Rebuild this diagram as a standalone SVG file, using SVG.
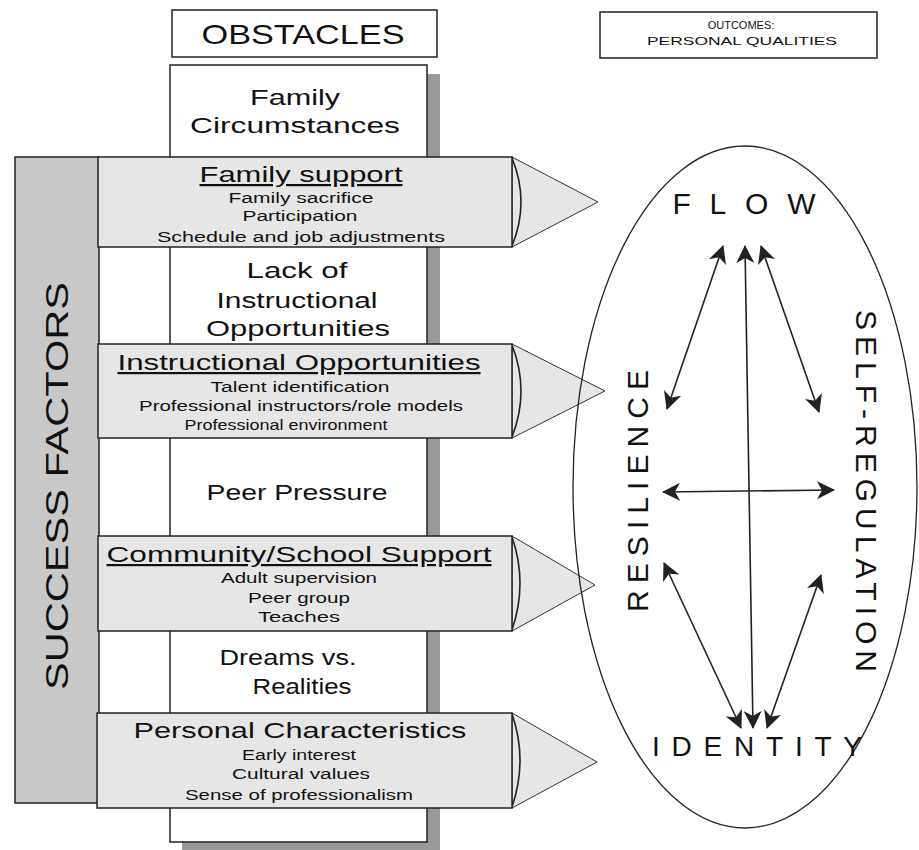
<svg xmlns="http://www.w3.org/2000/svg" width="919" height="850" viewBox="0 0 919 850">
<style>
text{font-family:"Liberation Sans",Arial,sans-serif;fill:#111;text-anchor:middle}
.obs{font-size:22px}
.tit{font-size:22px;text-decoration:underline}
.it{font-size:14px}
.box{fill:#e6e6e6;stroke:#222;stroke-width:1.5}
.tri{fill:#e6e6e6;stroke:#333;stroke-width:1}
.big{font-size:28px}
.conn{stroke:#222;stroke-width:1.6;fill:none}
</style>
<defs>
<marker id="ah" viewBox="0 0 18 18" refX="17" refY="9" markerWidth="18" markerHeight="18" markerUnits="userSpaceOnUse" orient="auto-start-reverse">
<path d="M0,0 L18,9 L0,18 L5,9 Z" fill="#222"/>
</marker>
</defs>
<rect width="919" height="850" fill="#fff"/>

<g id="obstacles-title">
<rect x="172" y="10" width="265" height="47" fill="#fff" stroke="#222" stroke-width="1.5"/>
<text x="303" y="44" class="big" textLength="203" lengthAdjust="spacingAndGlyphs">OBSTACLES</text>
</g>

<g id="outcomes-title">
<rect x="600" y="12" width="277" height="46" fill="#fff" stroke="#222" stroke-width="1.5"/>
<text x="741" y="29" font-size="11">OUTCOMES:</text>
<text x="742" y="45" font-size="11" textLength="190" lengthAdjust="spacingAndGlyphs">PERSONAL QUALITIES</text>
</g>

<g id="obstacles-column">
<rect x="427" y="74" width="13" height="776" fill="#999"/>
<rect x="182" y="842" width="258" height="8" fill="#999"/>
<rect x="170" y="65" width="257" height="777" fill="#fff" stroke="#222" stroke-width="1.5"/>
<text x="295" y="105" class="obs" textLength="90" lengthAdjust="spacingAndGlyphs">Family</text>
<text x="295" y="133" class="obs" textLength="210" lengthAdjust="spacingAndGlyphs">Circumstances</text>
<text x="297" y="278" class="obs" textLength="101" lengthAdjust="spacingAndGlyphs">Lack of</text>
<text x="297" y="308" class="obs" textLength="161" lengthAdjust="spacingAndGlyphs">Instructional</text>
<text x="298" y="336" class="obs" textLength="184" lengthAdjust="spacingAndGlyphs">Opportunities</text>
<text x="297" y="500" class="obs" textLength="181" lengthAdjust="spacingAndGlyphs">Peer Pressure</text>
<text x="288" y="665" class="obs" textLength="137" lengthAdjust="spacingAndGlyphs">Dreams vs.</text>
<text x="302" y="694" class="obs" textLength="99" lengthAdjust="spacingAndGlyphs">Realities</text>
</g>

<g id="success-factors">
<rect x="15" y="157" width="84" height="646" fill="#c8c8c8" stroke="#222" stroke-width="1.5"/>
<text transform="translate(68,486) rotate(-90)" font-size="32" textLength="408" lengthAdjust="spacingAndGlyphs">SUCCESS FACTORS</text>
</g>

<g id="family-support">
<path class="tri" d="M512,157 L598,202 L512,247 Z"/>
<path class="conn" stroke-width="1" d="M512,158 Q530,202 512,246"/>
<rect class="box" x="98" y="157" width="414" height="90"/>
<text x="301" y="182" class="tit" textLength="203" lengthAdjust="spacingAndGlyphs">Family support</text>
<text x="301" y="203" class="it" textLength="145" lengthAdjust="spacingAndGlyphs">Family sacrifice</text>
<text x="300" y="221" class="it" textLength="115" lengthAdjust="spacingAndGlyphs">Participation</text>
<text x="301" y="242" class="it" textLength="288" lengthAdjust="spacingAndGlyphs">Schedule and job adjustments</text>
</g>

<g id="instructional-opportunities">
<path class="tri" d="M512,344 L605,391 L512,438 Z"/>
<path class="conn" stroke-width="1" d="M512,345 Q530,391 512,437"/>
<rect class="box" x="98" y="344" width="414" height="94"/>
<text x="299" y="370" class="tit" textLength="363" lengthAdjust="spacingAndGlyphs">Instructional Opportunities</text>
<text x="300" y="392" class="it" textLength="179" lengthAdjust="spacingAndGlyphs">Talent identification</text>
<text x="301" y="411" class="it" textLength="324" lengthAdjust="spacingAndGlyphs">Professional instructors/role models</text>
<text x="286" y="430" class="it" textLength="203" lengthAdjust="spacingAndGlyphs">Professional environment</text>
</g>

<g id="community-school-support">
<path class="tri" d="M512,536 L595,585 L512,631 Z"/>
<path class="conn" stroke-width="1" d="M512,537 Q528,583 512,630"/>
<rect class="box" x="98" y="536" width="414" height="95"/>
<text x="299" y="562" class="tit" textLength="385" lengthAdjust="spacingAndGlyphs">Community/School Support</text>
<text x="299" y="583" class="it" textLength="156" lengthAdjust="spacingAndGlyphs">Adult supervision</text>
<text x="299" y="603" class="it" textLength="102" lengthAdjust="spacingAndGlyphs">Peer group</text>
<text x="299" y="622" class="it" textLength="82" lengthAdjust="spacingAndGlyphs">Teaches</text>
</g>

<g id="personal-characteristics">
<path class="tri" d="M512,713 L597,762 L512,808 Z"/>
<path class="conn" stroke-width="1" d="M512,714 Q528,760 512,807"/>
<rect class="box" x="97" y="713" width="415" height="95"/>
<text x="300" y="738" font-size="22" textLength="333" lengthAdjust="spacingAndGlyphs">Personal Characteristics</text>
<text x="299" y="760" class="it" textLength="114" lengthAdjust="spacingAndGlyphs">Early interest</text>
<text x="301" y="779" class="it" textLength="138" lengthAdjust="spacingAndGlyphs">Cultural values</text>
<text x="299" y="800" class="it" textLength="228" lengthAdjust="spacingAndGlyphs">Sense of professionalism</text>
</g>

<g id="outcomes-ellipse">
<ellipse cx="745" cy="487" rx="172" ry="341" fill="none" stroke="#222" stroke-width="1.3"/>
</g>

<g id="flow"><text x="744" y="214" font-size="30" textLength="143" lengthAdjust="spacing">FLOW</text></g>
<g id="identity"><text x="757" y="756" font-size="28" textLength="210" lengthAdjust="spacing">IDENTITY</text></g>
<g id="resilience"><text transform="translate(648,491) rotate(-90)" font-size="30" textLength="242" lengthAdjust="spacing">RESILIENCE</text></g>
<g id="self-regulation"><text transform="translate(856,491) rotate(90)" font-size="30" textLength="362" lengthAdjust="spacing">SELF-REGULATION</text></g>

<g id="connectors">
<line class="conn" x1="745" y1="246" x2="753" y2="728" marker-start="url(#ah)" marker-end="url(#ah)"/>
<line class="conn" x1="723" y1="246" x2="667" y2="409" marker-start="url(#ah)" marker-end="url(#ah)"/>
<line class="conn" x1="761" y1="246" x2="819" y2="412" marker-start="url(#ah)" marker-end="url(#ah)"/>
<line class="conn" x1="663" y1="492" x2="834" y2="490" marker-start="url(#ah)" marker-end="url(#ah)"/>
<line class="conn" x1="664" y1="563" x2="741" y2="728" marker-start="url(#ah)" marker-end="url(#ah)"/>
<line class="conn" x1="821" y1="575" x2="767" y2="728" marker-start="url(#ah)" marker-end="url(#ah)"/>
</g>
</svg>
